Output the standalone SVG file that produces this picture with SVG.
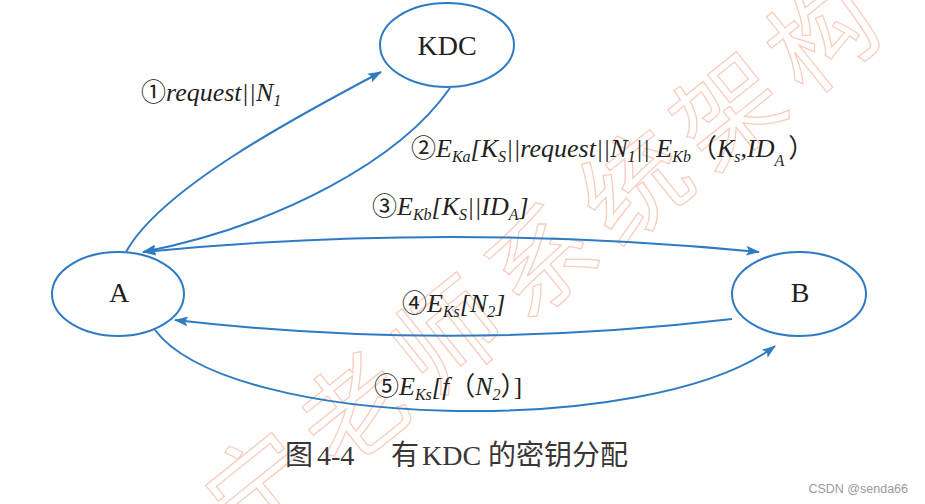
<svg xmlns="http://www.w3.org/2000/svg" width="925" height="504" viewBox="0 0 925 504">
<style>
.wm{font-family:"Noto Sans CJK SC",sans-serif;font-size:105px;fill:none;stroke:#f8cdbd;stroke-width:1.3;letter-spacing:15px}
.node{fill:#fff;stroke:#2e7bc4;stroke-width:2}
.ntxt{font-family:"Liberation Serif",serif;font-size:28px;fill:#231f20;text-anchor:middle}
.conn{fill:none;stroke:#2e7bc4;stroke-width:2}
.lbl{font-family:"Liberation Serif",serif;font-style:italic;font-size:26px;fill:#231f20}
.num{font-family:"Noto Sans CJK SC","DejaVu Sans",sans-serif;font-style:normal;font-size:25px}
.sub{font-size:16px}
.cjk{font-family:"Noto Sans CJK SC",sans-serif;font-style:normal}
.cap{font-family:"Liberation Serif","Noto Sans CJK SC",serif;font-size:28px;fill:#3a3636}
.csdn{font-family:"Liberation Sans",sans-serif;font-size:12.5px;fill:#9a9a9a;text-anchor:end}
</style>
<defs>
<marker id="arr" viewBox="0 0 14 10" refX="13" refY="5" markerWidth="14" markerHeight="10" markerUnits="userSpaceOnUse" orient="auto-start-reverse">
<path d="M0,0 L14,5 L0,10 L3,5 Z" fill="#2e7bc4"/>
</marker>
</defs>
<rect width="925" height="504" fill="#fff"/>
<g id="watermark">
<text class="wm" transform="translate(546,255) rotate(-38.7)" x="0" y="40" text-anchor="middle">宁老师系统架构</text>
</g>
<g id="connectors">
<path id="c1" class="conn" d="M126,252 C160,190 290,120 381,72" marker-end="url(#arr)"/>
<path id="c2" class="conn" d="M450,88 C400,160 280,225 143,252" marker-end="url(#arr)"/>
<path id="c3" class="conn" d="M143,252 Q450,222 759,252" marker-start="url(#arr)" marker-end="url(#arr)"/>
<path id="c4" class="conn" d="M732,319 Q450,352 175,320" marker-end="url(#arr)"/>
<path id="c5" class="conn" d="M155,330 C230,430 650,440 775,346" marker-end="url(#arr)"/>
</g>
<g id="node-kdc">
<ellipse class="node" cx="447" cy="45" rx="67" ry="42"/>
<text class="ntxt" x="447" y="55">KDC</text>
</g>
<g id="node-a">
<ellipse class="node" cx="118" cy="294" rx="66" ry="42"/>
<text class="ntxt" x="119" y="302">A</text>
</g>
<g id="node-b">
<ellipse class="node" cx="799" cy="294" rx="67" ry="42"/>
<text class="ntxt" x="800" y="302">B</text>
</g>
<g id="labels">
<text class="lbl" x="141" y="101"><tspan class="num">①</tspan>request||N<tspan class="sub" dy="5">1</tspan></text>
<text class="lbl" x="411" y="157"><tspan class="num">②</tspan>E<tspan class="sub" dy="5">Ka</tspan><tspan dy="-5">[K</tspan><tspan class="sub" dy="5">S</tspan><tspan dy="-5">||request||N</tspan><tspan class="sub" dy="5">1</tspan><tspan dy="-5">|| E</tspan><tspan class="sub" dy="5">Kb</tspan><tspan class="cjk" dy="-5">（</tspan>K<tspan class="sub" dy="5">s</tspan><tspan dy="-5">,ID</tspan><tspan class="sub" dy="9">A</tspan><tspan class="cjk" dy="-9" dx="4">）</tspan></text>
<text class="lbl" x="372" y="215"><tspan class="num">③</tspan>E<tspan class="sub" dy="5">Kb</tspan><tspan dy="-5">[K</tspan><tspan class="sub" dy="5">S</tspan><tspan dy="-5">||ID</tspan><tspan class="sub" dy="5">A</tspan><tspan dy="-5">]</tspan></text>
<text class="lbl" x="402" y="312"><tspan class="num">④</tspan>E<tspan class="sub" dy="5">Ks</tspan><tspan dy="-5">[N</tspan><tspan class="sub" dy="5">2</tspan><tspan dy="-5">]</tspan></text>
<text class="lbl" x="374" y="395"><tspan class="num">⑤</tspan>E<tspan class="sub" dy="5">Ks</tspan><tspan dy="-5">[f</tspan><tspan class="cjk">（</tspan>N<tspan class="sub" dy="5">2</tspan><tspan class="cjk" dy="-5">）</tspan><tspan style="font-style:normal">]</tspan></text>
</g>
<g id="caption">
<text class="cap" y="465"><tspan x="285">图</tspan><tspan x="317">4-4</tspan><tspan x="391">有</tspan><tspan x="422">KDC</tspan><tspan x="488">的密钥分配</tspan></text>
</g>
<text class="csdn" x="908" y="493">CSDN @senda66</text>
</svg>
